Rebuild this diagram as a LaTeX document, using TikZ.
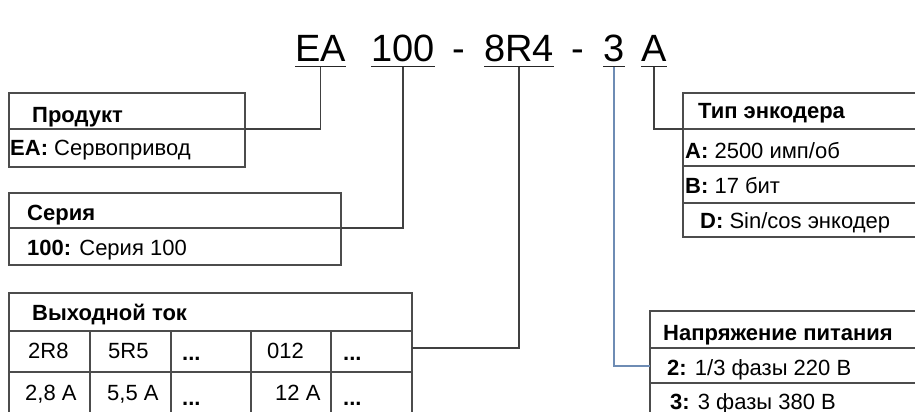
\documentclass[tikz,border=0pt]{standalone}
\usepackage{fontspec}
\setmainfont{Liberation Sans}
\definecolor{steel}{RGB}{110,140,180}
\begin{document}
\begin{tikzpicture}[x=1pt,y=-1pt,
  boxline/.style={draw=black!70, line width=1.4pt},
  conn/.style={draw=black!75, line width=1.5pt},
  connblue/.style={draw=steel, line width=1.5pt},
  uline/.style={draw=black!85, line width=1.8pt},
  lbl/.style={anchor=base west, inner sep=0pt, font=\fontsize{22}{26}\selectfont},
  ttl/.style={anchor=base west, inner sep=0pt, font=\fontsize{38}{44}\selectfont}]
\path[use as bounding box, fill=white] (0,0) rectangle (915,412);
\begin{scope}
\clip (0,0) rectangle (915,412);
% title
\node[ttl] (t1) at (295,62) {EA};
\node[ttl] (t2) at (371,62) {100};
\node[ttl] (d1) at (452,62) {-};
\node[ttl] (t3) at (484,62) {8R4};
\node[ttl] (d2) at (571,62) {-};
\node[ttl] (t4) at (603,62) {3};
\node[ttl] (t5) at (641,62) {A};
\foreach \n in {t1,t2,t3,t4,t5}{
  \draw[uline] ([yshift=-4.5pt]\n.base west) -- ([yshift=-4.5pt]\n.base east);
}
% product
\draw[boxline] (9,93) rectangle (245,167);
\draw[boxline] (9,129) -- (245,129);
\node[lbl] (p1) at (32,122) {\textbf{Продукт}};
\node[lbl] (p2) at (10,155) {\textbf{EA:} Сервопривод};
\coordinate (pc) at (245,129);
% series
\draw[boxline] (9,193) rectangle (341,265);
\draw[boxline] (9,228) -- (341,228);
\node[lbl] (s1) at (27,220) {\textbf{Серия}};
\node[lbl] (s2) at (27,255) {\textbf{100:} Серия 100};
\coordinate (sc) at (341,228);
% output current
\draw[boxline] (9,430) -- (9,293) -- (412,293) -- (412,430);
\draw[boxline] (9,331) -- (412,331);
\draw[boxline] (9,372) -- (412,372);
\foreach \x in {90,171,251,331}{\draw[boxline] (\x,331) -- (\x,430);}
\node[lbl] (o0) at (32,320) {\textbf{Выходной ток}};
\node[lbl] (o1) at (28,358) {2R8};
\node[lbl] (o2) at (108,358) {5R5};
\node[lbl] (o3) at (182,360) {\textbf{...}};
\node[lbl] (o4) at (267,358) {012};
\node[lbl] (o5) at (343,360) {\textbf{...}};
\node[lbl] (r1) at (25,400) {2,8 A};
\node[lbl] (r2) at (107,400) {5,5 A};
\node[lbl] (r3) at (182,405) {\textbf{...}};
\node[lbl] (r4) at (275,400) {12 A};
\node[lbl] (r5) at (343,405) {\textbf{...}};
\coordinate (oc) at (412,348);
% encoder
\draw[boxline] (930,93) -- (683,93) -- (683,237) -- (930,237);
\foreach \y in {129,166,203}{\draw[boxline] (683,\y) -- (930,\y);}
\node[lbl] (e0) at (698,118) {\textbf{Тип энкодера}};
\node[lbl] (e1) at (685,158) {\textbf{A:} 2500 имп/об};
\node[lbl] (e2) at (685,193) {\textbf{B:} 17 бит};
\node[lbl] (e3) at (700,228) {\textbf{D:} Sin/cos энкодер};
\coordinate (ec) at (683,129);
% voltage
\draw[boxline] (930,311) -- (650,311) -- (650,430);
\foreach \y in {348,383}{\draw[boxline] (650,\y) -- (930,\y);}
\node[lbl] (v0) at (663,340) {\textbf{Напряжение питания}};
\node[lbl] (v1) at (667,375) {\textbf{2:} 1/3 фазы 220 В};
\node[lbl] (v2) at (670,409) {\textbf{3:} 3 фазы 380 В};
\coordinate (vc) at (650,366);
% connectors
\draw[conn] ([yshift=-5pt]t1.base) |- (pc);
\draw[conn] ([yshift=-5pt]t2.base) |- (sc);
\draw[conn] ([yshift=-5pt]t3.base) |- (oc);
\draw[connblue] ([yshift=-5pt]t4.base) |- (vc);
\draw[conn] ([yshift=-5pt]t5.base) |- (ec);
\end{scope}
\end{tikzpicture}
\end{document}
